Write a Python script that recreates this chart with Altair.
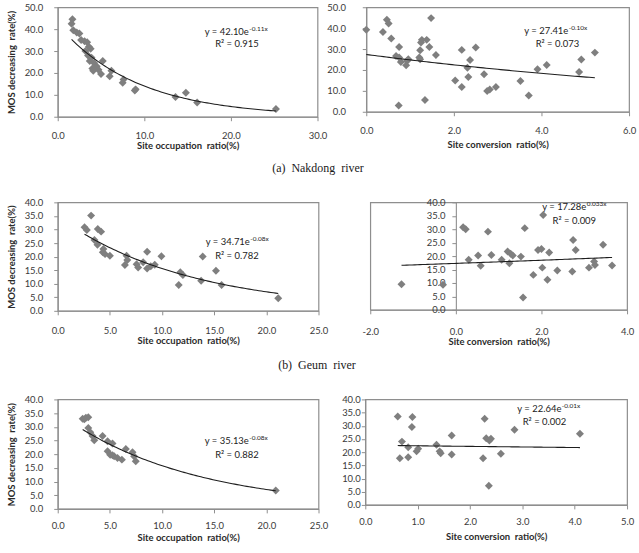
import altair as alt
import pandas as pd

# ---------------------------------------------------------------- data
# Nakdong river: site occupation ratio vs MOS decreasing rate
nak_occ_x = [1.7, 1.6, 1.8, 2.2, 2.5, 2.7, 3.1, 3.4, 3.6, 3.8, 3.2, 3.5, 3.9, 3.7, 4.2, 4.5,
             4.0, 4.1, 5.2, 5.0, 4.7, 6.2, 6.0, 7.6, 7.5, 9.0, 8.9, 13.6, 14.8, 16.1, 25.2]
nak_occ_y = [44.5, 42.5, 39.5, 38.5, 38.0, 35.0, 34.5, 34.0, 32.0, 31.0, 30.0, 28.0, 27.0, 25.5,
             24.5, 23.0, 22.0, 21.0, 25.5, 19.5, 21.5, 21.0, 18.5, 17.0, 15.5, 12.5, 12.0, 9.0,
             11.0, 6.5, 3.5]
nak_occ_fit = ("42.10", "-0.11", "0.915")

# Nakdong river: site conversion ratio vs MOS decreasing rate
nak_conv_x = [0.0, 0.38, 0.47, 0.51, 0.57, 0.75, 0.68, 0.75, 0.79, 0.93, 0.91, 0.96, 0.74, 1.23,
              1.25, 1.27, 1.21, 1.23, 1.38, 1.44, 1.48, 1.59, 1.34, 2.03, 2.18, 2.18, 2.50, 2.37,
              2.31, 2.33, 2.69, 2.76, 2.82, 2.96, 3.52, 3.71, 3.91, 4.12, 4.86, 4.91, 5.22]
nak_conv_y = [39.2, 38.2, 44.0, 42.2, 35.0, 31.0, 26.7, 26.0, 23.8, 24.3, 22.2, 25.1, 3.0, 29.4,
              33.1, 34.4, 26.0, 25.1, 34.4, 31.0, 44.8, 27.2, 5.6, 15.0, 29.6, 11.8, 30.7, 24.8,
              21.1, 16.6, 17.9, 9.9, 10.7, 11.8, 14.7, 7.8, 20.3, 22.4, 19.0, 25.0, 28.3]
nak_conv_fit = ("27.41", "-0.10", "0.073")

# Geum river: site occupation ratio vs MOS decreasing rate
geum_occ_x = [2.57, 2.79, 3.2, 3.84, 4.16, 3.52, 3.81, 4.38, 4.54, 4.32, 5.0, 6.44, 6.6, 6.67,
              7.56, 7.71, 8.19, 8.57, 8.57, 8.92, 9.3, 9.94, 11.6, 11.75, 12.0, 13.75, 13.9,
              15.17, 15.71, 21.14]
geum_occ_y = [30.8, 29.8, 35.1, 30.2, 29.2, 26.1, 24.4, 22.8, 20.9, 21.6, 20.3, 16.9, 20.3, 18.7,
              17.2, 16.0, 17.9, 21.8, 15.6, 16.4, 17.0, 20.1, 9.5, 14.2, 13.2, 11.1, 20.0, 14.8,
              9.5, 4.6]
geum_occ_fit = ("34.71", "-0.08", "0.782")

# Geum river: site conversion ratio vs MOS decreasing rate
geum_conv_x = [-1.27, -0.30, 0.17, 0.23, 0.30, 0.52, 0.58, 0.75, 0.83, 1.07, 1.21, 1.28, 1.33,
               1.25, 1.52, 1.61, 1.57, 1.81, 1.92, 2.0, 2.04, 2.02, 2.18, 2.14, 2.37, 2.74, 2.8,
               2.72, 3.11, 3.23, 3.25, 3.44, 3.65]
geum_conv_y = [9.5, 9.3, 30.7, 30.0, 18.6, 20.2, 16.4, 29.1, 20.4, 18.6, 21.7, 20.9, 20.2, 17.3,
               19.8, 30.4, 4.6, 13.0, 22.3, 22.6, 35.3, 15.7, 21.3, 11.2, 14.6, 26.0, 22.3, 14.3,
               15.7, 18.0, 16.7, 24.2, 16.5]
geum_conv_fit = ("17.28", "0.033", "0.009")

# Third river: site occupation ratio vs MOS decreasing rate
third_occ_x = [2.39, 2.7, 2.93, 2.55, 2.93, 3.12, 3.34, 3.5, 4.3, 4.78, 5.25, 4.78, 5.03, 5.41,
               5.73, 6.15, 6.53, 7.17, 7.32, 7.48, 5.25, 20.9]
third_occ_y = [32.9, 33.3, 33.5, 32.7, 29.6, 28.0, 26.6, 25.1, 26.6, 24.7, 23.9, 21.1, 19.8, 19.2,
               18.6, 18.0, 21.9, 20.7, 19.2, 17.4, 19.6, 6.7]
third_occ_fit = ("35.13", "-0.08", "0.882")

# Third river: site conversion ratio vs MOS decreasing rate
third_conv_x = [0.62, 0.70, 0.66, 0.82, 0.82, 0.90, 0.89, 0.98, 1.01, 1.36, 1.42, 1.44, 1.65,
                1.65, 2.25, 2.28, 2.31, 2.37, 2.40, 2.36, 2.59, 2.85, 4.10]
third_conv_y = [33.5, 24.0, 17.7, 21.9, 18.1, 33.3, 29.5, 20.3, 21.3, 22.8, 20.3, 19.6, 26.3,
                19.1, 17.7, 32.7, 25.3, 24.4, 25.1, 7.3, 19.4, 28.5, 27.0]
third_conv_fit = ("22.64", "-0.01", "0.002")

OCC_TITLE = "Site occupation\u00a0 ratio(%)"
CONV_TITLE = "Site conversion\u00a0 ratio(%)"
Y_TITLE = "MOS decreasing\u00a0 rate(%)"

FONT = "Lato"
POINT_COLOR = "#7f7f7f"
LINE_COLOR = "#1e1e1e"
TEXT_COLOR = "#222222"

# one-decimal tick labels with a plain hyphen for negative values
LABEL_EXPR = ("datum.value < 0 ? '-' + format(-datum.value, '.1f') "
              ": format(datum.value, '.1f')")


def ticks(lo, hi, step):
    n = int(round((hi - lo) / step))
    return [round(lo + i * step, 6) for i in range(n + 1)]


def panel(xs, ys, fit, xdom, xstep, ydom, ystep, xtitle, ytitle, width, height,
          eq_pos, r2_pos, x_label_pad, x_title_pad, y_label_pad, y_offset=0):
    a_txt, b_txt, r2_txt = fit
    a, b = float(a_txt), float(b_txt)
    df = pd.DataFrame({"x": xs, "y": ys})

    xscale = alt.Scale(domain=xdom, nice=False, zero=False)
    yscale = alt.Scale(domain=ydom, nice=False, zero=False)
    xaxis = alt.Axis(values=ticks(xdom[0], xdom[1], xstep), labelExpr=LABEL_EXPR, title=xtitle,
                     labelPadding=x_label_pad, titlePadding=x_title_pad, labelFlush=False,
                     labelOverlap=False, tickSize=4, grid=False)
    yaxis_kw = dict(values=ticks(ydom[0], ydom[1], ystep), labelExpr=LABEL_EXPR,
                    labelPadding=y_label_pad, labelOverlap=False, tickSize=4, grid=False,
                    titlePadding=8, offset=y_offset)
    if ytitle:
        yaxis = alt.Axis(title=ytitle, **yaxis_kw)
    else:
        yaxis = alt.Axis(title=None, **yaxis_kw)

    xenc = alt.X("x:Q", scale=xscale, axis=xaxis)
    yenc = alt.Y("y:Q", scale=yscale, axis=yaxis)

    points = alt.Chart(df).mark_point(
        shape="diamond", filled=True, size=64, color=POINT_COLOR, opacity=1
    ).encode(x=xenc, y=yenc)

    # exponential trend line  y = a * e^(b x)  over the range of the data
    x0, x1 = min(xs), max(xs)
    step = (x1 - x0) / 80
    trend = alt.Chart(alt.sequence(x0, x1 + step / 2, step, as_="x")).transform_calculate(
        y=f"{a} * exp({b} * datum.x)"
    ).mark_line(color=LINE_COLOR, strokeWidth=1.1).encode(x=xenc, y=yenc)

    jx, jy = eq_pos
    eq_base = alt.Chart(pd.DataFrame({"t": [f"y = {a_txt}e"]})).mark_text(
        align="right", baseline="middle", font=FONT, fontSize=9.5, color=TEXT_COLOR
    ).encode(x=alt.value(jx), y=alt.value(jy), text="t:N")
    eq_sup = alt.Chart(pd.DataFrame({"t": [f"{b_txt}x"]})).mark_text(
        align="left", baseline="middle", font=FONT, fontSize=6.5, color=TEXT_COLOR
    ).encode(x=alt.value(jx + 0.5), y=alt.value(jy - 3.5), text="t:N")
    r2 = alt.Chart(pd.DataFrame({"t": [f"R\u00b2 = {r2_txt}"]})).mark_text(
        align="center", baseline="middle", font=FONT, fontSize=9.5, color=TEXT_COLOR
    ).encode(x=alt.value(r2_pos[0]), y=alt.value(r2_pos[1]), text="t:N")

    return alt.layer(points, trend, eq_base, eq_sup, r2).properties(width=width, height=height)


p1 = panel(nak_occ_x, nak_occ_y, nak_occ_fit, [0, 30], 10, [0, 50], 10, OCC_TITLE, Y_TITLE,
           261, 110, (192, 25), (180, 37), 9.5, 1, 11)
p2 = panel(nak_conv_x, nak_conv_y, nak_conv_fit, [0, 6], 2, [0, 50], 10, CONV_TITLE, None,
           264, 105, (203, 24), (192, 37), 9.5, 5, 17)
p3 = panel(geum_occ_x, geum_occ_y, geum_occ_fit, [0, 25], 5, [0, 40], 5, OCC_TITLE, Y_TITLE,
           262, 109, (193, 40), (180, 54), 11, 0, 11)
p4 = panel(geum_conv_x, geum_conv_y, geum_conv_fit, [-2, 4], 2, [0, 40], 5, CONV_TITLE, None,
           258, 108, (217, 5), (205, 19), 13, 0, 7, y_offset=-86)
p5 = panel(third_occ_x, third_occ_y, third_occ_fit, [0, 25], 5, [0, 40], 5, OCC_TITLE, Y_TITLE,
           262, 110, (192, 42), (180, 56), 7.5, 3, 11)
p6 = panel(third_conv_x, third_conv_y, third_conv_fit, [0, 5], 1, [0, 40], 5, CONV_TITLE, None,
           263, 106, (197, 10), (180, 23), 7.5, 6, 1)


def caption(text, offset):
    return alt.TitleParams(text, orient="bottom", anchor="middle", font="Liberation Serif",
                           fontSize=12, fontWeight="normal", color="#1a1a1a",
                           offset=offset, dx=-3)


row1 = alt.hconcat(p1, p2, spacing=49, bounds="flush").properties(
    title=caption("(a)\u00a0 Nakdong\u00a0 river", 12))
row2 = alt.hconcat(p3, p4, spacing=52, bounds="flush").properties(
    title=caption("(b)\u00a0 Geum\u00a0 river", 14))
row3 = alt.hconcat(p5, p6, spacing=47, bounds="flush")

chart = alt.vconcat(
    row1, row2, row3, spacing=22,
    padding={"left": 5, "top": 0, "right": 2, "bottom": 2},
).configure(
    font=FONT, background="white"
).configure_view(
    stroke="#8e8e8e", strokeWidth=1.2
).configure_axis(
    domainColor="#8e8e8e", domainWidth=1.1, tickColor="#8e8e8e", tickWidth=1,
    labelFont=FONT, labelFontSize=9.5, labelColor="#3a3a3a",
    titleFont=FONT, titleFontSize=9.5, titleFontWeight="bold", titleColor="#2a2a2a",
)

chart.save("out.html", embed_options={"renderer": "svg", "actions": False})
